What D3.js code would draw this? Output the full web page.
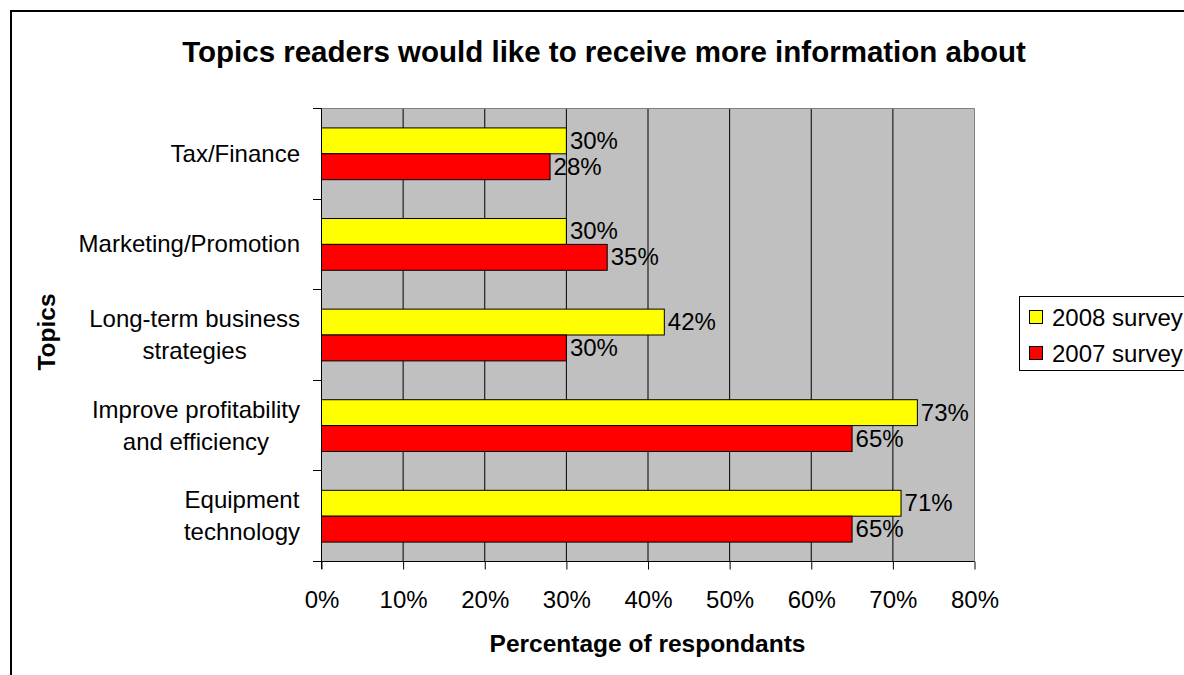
<!DOCTYPE html>
<html>
<head>
<meta charset="utf-8">
<script src="https://cdn.jsdelivr.net/npm/d3@7/dist/d3.min.js"></script>
<style>
  html, body { margin: 0; padding: 0; background: #fff; }
  svg { display: block; font-family: "Liberation Sans", Arial, sans-serif; }
</style>
</head>
<body>
<svg id="chart" width="1184" height="675"></svg>
<script>
const categories = [
  ["Tax/Finance"],
  ["Marketing/Promotion"],
  ["Long-term business", "strategies"],
  ["Improve profitability", "and efficiency"],
  ["Equipment", "technology"]
];
const seriesNames = ["2008 survey", "2007 survey"];
const series2008 = [30, 30, 42, 73, 71];
const series2007 = [28, 35, 30, 65, 65];
const xTicks = [0, 10, 20, 30, 40, 50, 60, 70, 80];
const colors = ["#FFFF00", "#FF0000"];

const title = "Topics readers would like to receive more information about";
const xTitle = "Percentage of respondants";
const yTitle = "Topics";

const FS = "24px";
const svg = d3.select("#chart");
const plot = { left: 321, right: 974, top: 108, bottom: 561 };

// outer chart border (extends beyond the visible frame on the right/bottom)
svg.append("rect")
  .attr("x", 11).attr("y", 11)
  .attr("width", 1300).attr("height", 800)
  .attr("fill", "#fff").attr("stroke", "#000").attr("stroke-width", 2);

const x = d3.scaleLinear().domain([0, 80]).range([plot.left, plot.right]);
const catIdx = d3.range(categories.length);
const y = d3.scaleBand().domain(catIdx).range([plot.top, plot.bottom])
  .paddingInner(0).paddingOuter(0);

// plot area background
svg.append("rect")
  .attr("x", plot.left).attr("y", plot.top)
  .attr("width", plot.right - plot.left).attr("height", plot.bottom - plot.top)
  .attr("fill", "#C0C0C0");

// gridlines
svg.append("g").selectAll("line")
  .data(xTicks.filter(t => t > 0 && t < 80))
  .join("line")
  .attr("x1", d => x(d) + 0.5).attr("x2", d => x(d) + 0.5)
  .attr("y1", plot.top).attr("y2", plot.bottom)
  .attr("stroke", "#000").attr("stroke-width", 1);

// plot border top/right gray
svg.append("path")
  .attr("d", `M${plot.left},${plot.top + 0.5}H${plot.right + 0.5}V${plot.bottom}`)
  .attr("fill", "none").attr("stroke", "#808080").attr("stroke-width", 1);

// bars: gap width 150% -> bars occupy bandwidth / (2 + 1.5)
const barH = y.bandwidth() / (2 + 1.5);
const gap = barH * 1.5 / 2;
const allSeries = [series2008, series2007];
allSeries.forEach((vals, s) => {
  svg.append("g").selectAll("rect")
    .data(vals)
    .join("rect")
    .attr("x", x(0) + 0.5)
    .attr("y", (d, i) => y(i) + gap + s * barH + 0.5)
    .attr("width", d => x(d) - x(0))
    .attr("height", barH)
    .attr("fill", colors[s])
    .attr("stroke", "#000").attr("stroke-width", 1);
  svg.append("g").selectAll("text")
    .data(vals)
    .join("text")
    .attr("x", d => x(d) + 4)
    .attr("y", (d, i) => y(i) + gap + s * barH + barH / 2 + 8.5)
    .attr("font-size", FS)
    .attr("fill", "#000")
    .text(d => d + "%");
});

// x axis
const xAxis = d3.axisBottom(x).tickValues(xTicks).tickFormat(d => d + "%").tickSize(8).tickSizeOuter(0);
const gx = svg.append("g").attr("transform", `translate(0.5,${plot.bottom + 0.5})`).call(xAxis);
gx.select(".domain").attr("stroke", "#000").attr("d", `M${plot.left - 8},0H${plot.right}`);
gx.selectAll(".tick line").attr("stroke", "#000");
gx.selectAll(".tick text")
  .attr("font-size", FS).attr("fill", "#000")
  .attr("font-family", "Liberation Sans, Arial, sans-serif")
  .attr("dy", null).attr("y", 46);

// y axis line + ticks at band boundaries
svg.append("line")
  .attr("x1", plot.left + 0.5).attr("x2", plot.left + 0.5)
  .attr("y1", plot.top).attr("y2", plot.bottom + 8)
  .attr("stroke", "#000");
svg.append("g").selectAll("line")
  .data(d3.range(categories.length + 1))
  .join("line")
  .attr("x1", plot.left - 8).attr("x2", plot.left)
  .attr("y1", d => Math.round(plot.top + d * y.bandwidth()) + 0.5)
  .attr("y2", d => Math.round(plot.top + d * y.bandwidth()) + 0.5)
  .attr("stroke", "#000");

// category labels: lines centred on each other, block right-aligned at x=300
const catG = svg.append("g");
categories.forEach((lines, i) => {
  const cy = y(i) + y.bandwidth() / 2;
  const t = catG.append("text")
    .attr("font-size", FS).attr("fill", "#000")
    .attr("text-anchor", "middle");
  const lh = 32;
  lines.forEach((ln, j) => {
    t.append("tspan")
      .attr("x", 0)
      .attr("y", cy + (j - (lines.length - 1) / 2) * lh + 8.5)
      .text(ln);
  });
  let w = 0;
  t.selectAll("tspan").each(function () { w = Math.max(w, this.getComputedTextLength()); });
  t.selectAll("tspan").attr("x", 300 - w / 2);
});

// title
svg.append("text")
  .attr("x", 604).attr("y", 62)
  .attr("text-anchor", "middle")
  .attr("font-size", "29.5px").attr("font-weight", "bold")
  .attr("fill", "#000")
  .text(title);

// x title
svg.append("text")
  .attr("x", (plot.left + plot.right) / 2).attr("y", 652)
  .attr("text-anchor", "middle")
  .attr("font-size", "24.5px").attr("font-weight", "bold")
  .attr("fill", "#000")
  .text(xTitle);

// y title
svg.append("text")
  .attr("transform", `translate(55,332) rotate(-90)`)
  .attr("text-anchor", "middle")
  .attr("font-size", "24.5px").attr("font-weight", "bold")
  .attr("fill", "#000")
  .text(yTitle);

// legend
const lg = svg.append("g");
lg.append("rect")
  .attr("x", 1019.5).attr("y", 296.5)
  .attr("width", 200).attr("height", 74)
  .attr("fill", "#fff").attr("stroke", "#000").attr("stroke-width", 1);
seriesNames.forEach((name, s) => {
  const cy = 317 + s * 36;
  lg.append("rect")
    .attr("x", 1029.5).attr("y", cy - 7 + 0.5)
    .attr("width", 13).attr("height", 13)
    .attr("fill", colors[s]).attr("stroke", "#000");
  lg.append("text")
    .attr("x", 1052).attr("y", cy + 8.5)
    .attr("font-size", FS).attr("fill", "#000")
    .text(name);
});
</script>
</body>
</html>
